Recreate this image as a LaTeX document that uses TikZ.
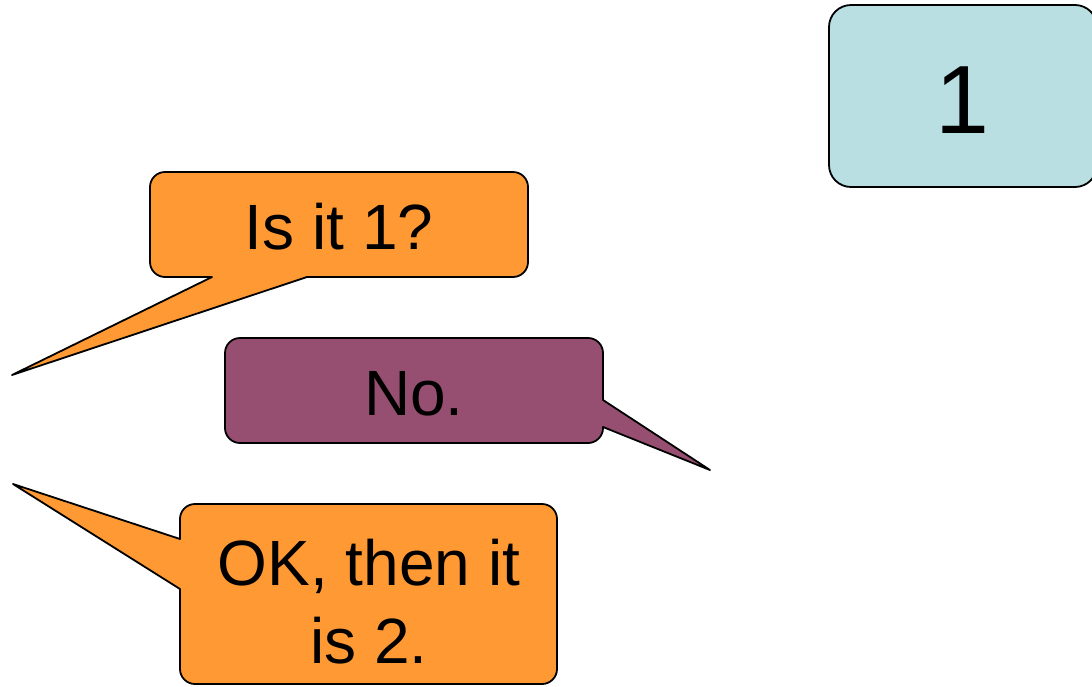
\documentclass[tikz,border=0pt]{standalone}
\usepackage{fontspec}
\setmainfont{Liberation Sans}
\definecolor{talkorange}{HTML}{FF9933}
\definecolor{talkplum}{HTML}{964F70}
\definecolor{cardblue}{HTML}{B9DFE3}
\tikzset{
  balloon/.style={draw=black, line width=1.8pt, line join=round},
  saytext/.style={font=\fontsize{64}{78}\selectfont, align=center, anchor=base, inner sep=0pt},
  cardtext/.style={font=\fontsize{97}{116}\selectfont, anchor=base, inner sep=0pt}
}
\begin{document}
\begin{tikzpicture}[x=1pt, y=1pt]
  \useasboundingbox (0,0) rectangle (1092,-686);

  % card with the number
  \draw[balloon, fill=cardblue, rounded corners=22pt] (829,-5) rectangle (1097,-187);
  \node[cardtext] (card) at (962,-133) {1};

  % first question, tail pointing down-left
  \draw[balloon, fill=talkorange]
    (165,-172) -- (513,-172) arc[start angle=90, end angle=0, radius=15]
    -- (528,-262) arc[start angle=0, end angle=-90, radius=15]
    -- (307,-277) -- (12,-375) -- (212,-277)
    -- (165,-277) arc[start angle=-90, end angle=-180, radius=15]
    -- (150,-187) arc[start angle=180, end angle=90, radius=15] -- cycle;
  \node[saytext] (ask) at (339,-249) {Is it 1?};

  % answer, tail pointing down-right
  \draw[balloon, fill=talkplum]
    (240,-338) -- (588,-338) arc[start angle=90, end angle=0, radius=15]
    -- (603,-400) -- (710,-470) -- (603,-427)
    -- (603,-428) arc[start angle=0, end angle=-90, radius=15]
    -- (240,-443) arc[start angle=-90, end angle=-180, radius=15]
    -- (225,-353) arc[start angle=180, end angle=90, radius=15] -- cycle;
  \node[saytext] (reply) at (414,-415) {No.};

  % second guess, tail pointing up-left; base anchor sits on the last line
  \draw[balloon, fill=talkorange]
    (195,-504) -- (542,-504) arc[start angle=90, end angle=0, radius=15]
    -- (557,-669) arc[start angle=0, end angle=-90, radius=15]
    -- (195,-684) arc[start angle=-90, end angle=-180, radius=15]
    -- (180,-589) -- (13,-484) -- (180,-539)
    -- (180,-519) arc[start angle=180, end angle=90, radius=15] -- cycle;
  \node[saytext] (guess) at (369,-663) {OK, then it\\is 2.};
\end{tikzpicture}
\end{document}
